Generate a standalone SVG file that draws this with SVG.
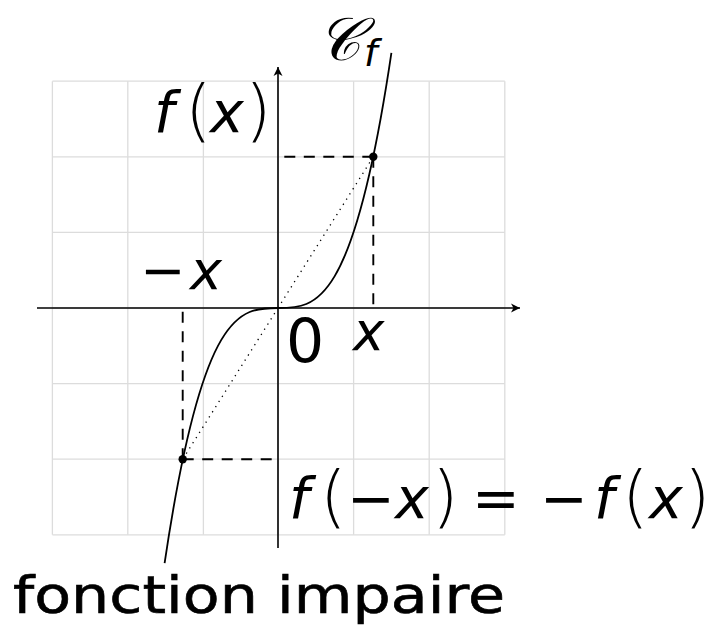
<svg xmlns="http://www.w3.org/2000/svg" width="721" height="635" viewBox="0 0 721 635">
<style>
.grid line{stroke:#dcdcdc;stroke-width:1.3}
.axis{stroke:#000;stroke-width:1.6;fill:none}
.curve{stroke:#000;stroke-width:1.8;fill:none}
.dash{stroke:#000;stroke-width:1.9;stroke-dasharray:11 8.5;fill:none}
.dot{stroke:#000;stroke-width:1.3;stroke-dasharray:1.3 4.8;fill:none}
.m{font-family:"DejaVu Sans",sans-serif;font-style:oblique;fill:#000}
.r{font-family:"DejaVu Sans",sans-serif;fill:#000}
.p{font-size:68px;font-style:normal;font-weight:200}
</style>
<defs>
<marker id="arr" viewBox="-9 -5 10 10" markerWidth="10" markerHeight="10" refX="0" refY="0" orient="auto" markerUnits="userSpaceOnUse">
<path d="M0,0 L-9,-4.5 L-6.5,0 L-9,4.5 Z" fill="#000"/>
</marker>
</defs>
<rect width="721" height="635" fill="#fff"/>
<g id="grid" class="grid">
<line x1="52.4" y1="81.2" x2="52.4" y2="534.8"/>
<line x1="127.8" y1="81.2" x2="127.8" y2="534.8"/>
<line x1="203.4" y1="81.2" x2="203.4" y2="534.8"/>
<line x1="278" y1="81.2" x2="278" y2="534.8"/>
<line x1="353.6" y1="81.2" x2="353.6" y2="534.8"/>
<line x1="429.2" y1="81.2" x2="429.2" y2="534.8"/>
<line x1="504.8" y1="81.2" x2="504.8" y2="534.8"/>
<line x1="52.4" y1="81.2" x2="504.8" y2="81.2"/>
<line x1="52.4" y1="156.8" x2="504.8" y2="156.8"/>
<line x1="52.4" y1="232.4" x2="504.8" y2="232.4"/>
<line x1="52.4" y1="308" x2="504.8" y2="308"/>
<line x1="52.4" y1="383.6" x2="504.8" y2="383.6"/>
<line x1="52.4" y1="459.2" x2="504.8" y2="459.2"/>
<line x1="52.4" y1="534.8" x2="504.8" y2="534.8"/>
</g>
<g id="connectors">
<line class="axis" x1="37" y1="308" x2="520" y2="308" marker-end="url(#arr)"/>
<line class="axis" x1="278" y1="548" x2="278" y2="67" marker-end="url(#arr)"/>
<path class="dash" d="M373.3,156.8 H278 M373.3,156.8 V308"/>
<path class="dash" d="M182.7,459.2 H278 M182.7,459.2 V308"/>
<line class="dot" x1="278" y1="308" x2="373.3" y2="156.8"/>
<line class="dot" x1="278" y1="308" x2="182.7" y2="459.2"/>
<path class="curve" d="M164.6,563.15 C240.2,52.85 315.8,563.15 391.4,52.85"/>
</g>
<g id="points">
<circle cx="373.3" cy="156.8" r="4.2"/>
<circle cx="182.7" cy="459.2" r="4.2"/>
</g>
<g id="label-fx">
<text class="m" y="132" font-size="57"><tspan x="154">f</tspan><tspan class="p" x="185" y="134">(</tspan><tspan x="210" y="132">x</tspan><tspan class="p" x="245" y="134">)</tspan></text>
</g>
<g id="label-minus-x">
<text class="m" y="289" font-size="54"><tspan x="140">−</tspan><tspan x="190">x</tspan></text>
</g>
<g id="label-zero">
<text class="r" x="286" y="362" font-size="60">0</text>
</g>
<g id="label-x">
<text class="m" x="353" y="350" font-size="53">x</text>
</g>
<g id="label-eq">
<text class="m" y="518" font-size="57"><tspan x="289">f</tspan><tspan class="p" x="320" y="520">(</tspan><tspan x="347" y="518">−</tspan><tspan x="395">x</tspan><tspan class="p" x="432" y="520">)</tspan><tspan x="472" y="518">=</tspan><tspan x="540">−</tspan><tspan x="594">f</tspan><tspan class="p" x="622" y="520">(</tspan><tspan x="649" y="518">x</tspan><tspan class="p" x="684" y="520">)</tspan></text>
</g>
<g id="label-cf">
<text class="m" y="60" font-size="60"><tspan x="317">𝒞</tspan><tspan x="364" y="66" font-size="38">f</tspan></text>
</g>
<g id="label-title">
<text class="r" x="13" y="613" font-size="51" textLength="492" lengthAdjust="spacingAndGlyphs" stroke="#000" stroke-width="0.6">fonction impaire</text>
</g>
</svg>
